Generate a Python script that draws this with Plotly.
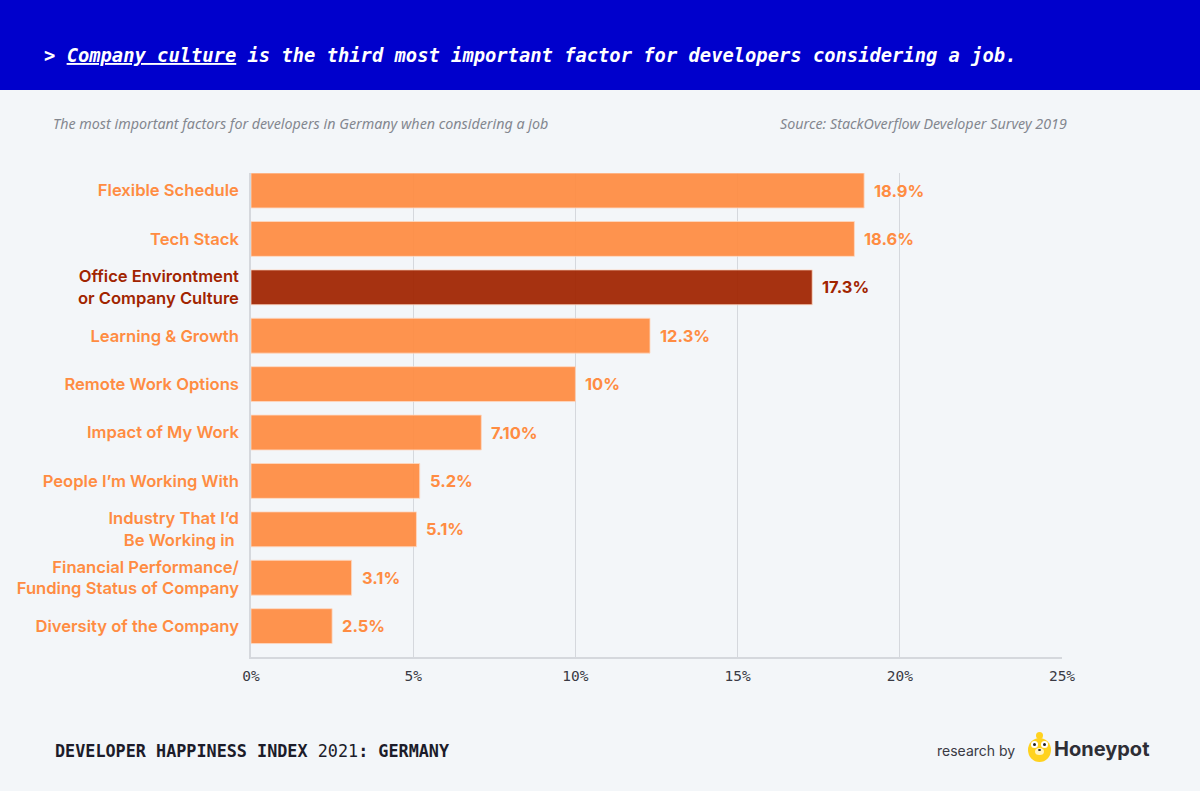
import plotly.graph_objects as go

categories = [
    "Flexible Schedule",
    "Tech Stack",
    "Office Environtment<br>or Company Culture",
    "Learning & Growth",
    "Remote Work Options",
    "Impact of My Work",
    "People I’m Working With",
    "Industry That I’d<br>Be Working in ",
    "Financial Performance/<br>Funding Status of Company",
    "Diversity of the Company",
]
values = [18.9, 18.6, 17.3, 12.3, 10.0, 7.1, 5.2, 5.1, 3.1, 2.5]
value_labels = ["18.9%", "18.6%", "17.3%", "12.3%", "10%", "7.10%", "5.2%", "5.1%", "3.1%", "2.5%"]
highlight = 2
x_ticks = [0, 5, 10, 15, 20, 25]
x_tick_labels = ["0%", "5%", "10%", "15%", "20%", "25%"]

ORANGE = "#FF8C42"
DARK = "#A12400"
BG = "#F3F6F9"
BLUE = "#0000CC"

W, H = 1200, 791
L, R, T, B = 251, 138, 173, 134
PW, PH = W - L - R, H - T - B


def px(x):
    return (x - L) / PW


def py(y):
    return (H - B - y) / PH


colors = [DARK if i == highlight else ORANGE for i in range(len(categories))]
ticktext = [
    f'<span style="color:{DARK}">{c}</span>' if i == highlight else c
    for i, c in enumerate(categories)
]

fig = go.Figure()
fig.add_trace(go.Bar(
    x=values,
    y=list(range(len(categories))),
    orientation="h",
    width=0.72,
    marker=dict(color=colors, opacity=0.93, line=dict(color="rgba(255,215,190,0.8)", width=1)),
    hoverinfo="skip",
))

annotations = []
for i, (v, lab) in enumerate(zip(values, value_labels)):
    annotations.append(dict(
        x=v, y=i, xref="x", yref="y", text=lab, showarrow=False,
        xanchor="left", yanchor="middle", xshift=8,
        font=dict(family="Inter", size=16.5, color=colors[i], weight=700),
    ))

# header title
annotations.append(dict(
    x=px(42), y=py(56), xref="paper", yref="paper", xanchor="left", yanchor="middle",
    showarrow=False,
    text="<b><i>&gt; <u>Company culture</u> is the third most important factor for developers considering a job.</i></b>",
    font=dict(family="DejaVu Sans Mono", size=18.8, color="white"),
))
# subtitle and source
annotations.append(dict(
    x=px(51), y=py(123), xref="paper", yref="paper", xanchor="left", yanchor="middle",
    showarrow=False,
    text="<i>The most important factors for developers in Germany when considering a job</i>",
    font=dict(family="Noto Sans", size=14.3, color="#83878F"),
))
annotations.append(dict(
    x=px(1069), y=py(123), xref="paper", yref="paper", xanchor="right", yanchor="middle",
    showarrow=False,
    text="<i>Source: StackOverflow Developer Survey 2019</i>",
    font=dict(family="Noto Sans", size=14.3, color="#83878F"),
))
# footer
annotations.append(dict(
    x=px(53), y=py(751), xref="paper", yref="paper", xanchor="left", yanchor="middle",
    showarrow=False,
    text="<b>DEVELOPER HAPPINESS INDEX</b> 2021<b>: GERMANY</b>",
    font=dict(family="DejaVu Sans Mono", size=16.8, color="#1C1C2A"),
))
annotations.append(dict(
    x=px(1017), y=py(750), xref="paper", yref="paper", xanchor="right", yanchor="middle",
    showarrow=False, text="research by",
    font=dict(family="Inter", size=14, color="#3A3A44"),
))
annotations.append(dict(
    x=px(1052), y=py(749), xref="paper", yref="paper", xanchor="left", yanchor="middle",
    showarrow=False, text="<b>Honeypot</b>",
    font=dict(family="Inter", size=20, color="#2E2E36"),
))

shapes = [
    dict(type="rect", xref="paper", yref="paper", x0=px(0), x1=px(W), y0=py(90), y1=py(0),
         fillcolor=BLUE, line=dict(width=0), layer="below"),
    # honeypot bear icon
    dict(type="circle", xref="paper", yref="paper", x0=px(1028), x1=px(1051), y0=py(762), y1=py(738),
         fillcolor="#FFD21F", line=dict(width=0)),
    dict(type="circle", xref="paper", yref="paper", x0=px(1036), x1=px(1043), y0=py(739), y1=py(732),
         fillcolor="#FFD21F", line=dict(width=0)),
    dict(type="circle", xref="paper", yref="paper", x0=px(1031), x1=px(1038), y0=py(748), y1=py(741),
         fillcolor="white", line=dict(width=0)),
    dict(type="circle", xref="paper", yref="paper", x0=px(1041), x1=px(1048), y0=py(748), y1=py(741),
         fillcolor="white", line=dict(width=0)),
    dict(type="circle", xref="paper", yref="paper", x0=px(1033), x1=px(1036), y0=py(746), y1=py(743),
         fillcolor="#222", line=dict(width=0)),
    dict(type="circle", xref="paper", yref="paper", x0=px(1043), x1=px(1046), y0=py(746), y1=py(743),
         fillcolor="#222", line=dict(width=0)),
    dict(type="circle", xref="paper", yref="paper", x0=px(1035), x1=px(1044), y0=py(755), y1=py(748),
         fillcolor="#FFF3C4", line=dict(width=0)),
    dict(type="circle", xref="paper", yref="paper", x0=px(1038), x1=px(1041), y0=py(751), y1=py(749),
         fillcolor="#222", line=dict(width=0)),
]

fig.update_layout(
    width=W, height=H,
    margin=dict(l=L, r=R, t=T, b=B, pad=0),
    paper_bgcolor=BG, plot_bgcolor=BG,
    showlegend=False,
    bargap=0.28,
    annotations=annotations,
    shapes=shapes,
    xaxis=dict(
        range=[0, 25], tickvals=x_ticks, ticktext=x_tick_labels,
        showgrid=True, gridcolor="#D5D8DD", gridwidth=1,
        showline=True, linecolor="#D5D8DD", linewidth=1.5,
        zeroline=False, ticks="", ticklabelstandoff=5,
        tickfont=dict(family="DejaVu Sans Mono", size=14.5, color="#3A3A44"),
        fixedrange=True,
    ),
    yaxis=dict(
        range=[9.638, -0.362],
        tickvals=list(range(len(categories))), ticktext=ticktext,
        showgrid=False, zeroline=False,
        showline=True, linecolor="#D5D8DD", linewidth=1.5,
        ticks="", ticklabelstandoff=7,
        tickfont=dict(family="Inter", size=16.6, color=ORANGE, weight=600),
        fixedrange=True,
    ),
)

fig.write_html(
    "out.html",
    config={"displayModeBar": False},
    post_script="document.body.style.margin='0';document.body.style.overflow='hidden';",
)
